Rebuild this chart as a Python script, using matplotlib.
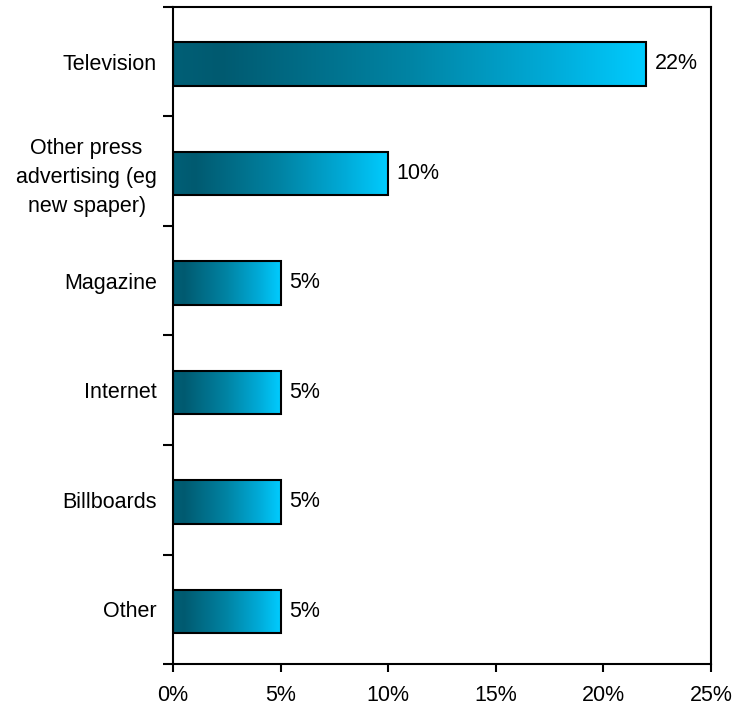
import numpy as np
import matplotlib
matplotlib.use("Agg")
import matplotlib.pyplot as plt
from matplotlib.colors import LinearSegmentedColormap
from matplotlib.ticker import FixedLocator, PercentFormatter

plt.rcParams['font.family'] = ['Liberation Sans', 'DejaVu Sans']

categories = ["Television", "Other press\nadvertising (eg\nnew spaper)", "Magazine",
              "Internet", "Billboards", "Other"]
values = [22, 10, 5, 5, 5, 5]
value_labels = ["22%", "10%", "5%", "5%", "5%", "5%"]
x_ticks = [0, 5, 10, 15, 20, 25]

grad = LinearSegmentedColormap.from_list(
    "teal", [(0.0, "#005f76"), (0.1, "#005a70"), (0.5, "#0084a4"),
             (0.8, "#00abd8"), (1.0, "#00ccff")])

FS = 15.5

fig = plt.figure(figsize=(7.35, 7.06), dpi=100)
ax = fig.add_axes([173 / 735, 1 - 664 / 706, (711 - 173) / 735, (664 - 7) / 706])

n = len(categories)
ypos = np.arange(n)
bar_h = 0.4
shift = 0.02
ramp = np.linspace(0, 1, 256).reshape(1, -1)

for y, v, lab in zip(ypos, values, value_labels):
    yc = y + shift
    y0, y1 = yc - bar_h / 2, yc + bar_h / 2
    ax.imshow(ramp, cmap=grad, aspect="auto", extent=[0, v, y1, y0],
              interpolation="bilinear", zorder=2)
    ax.add_patch(plt.Rectangle((0, y0), v, bar_h, fill=False,
                               edgecolor="black", linewidth=1.5, zorder=3))
    ax.text(v + 0.38, yc, lab, va="center", ha="left", fontsize=FS, color="black")

ax.set_xlim(0, 25)
ax.set_ylim(n - 0.5, -0.5)
ax.xaxis.set_major_locator(FixedLocator(x_ticks))
ax.xaxis.set_major_formatter(PercentFormatter(decimals=0))
ax.set_yticks(np.arange(n + 1) - 0.5)
ax.set_yticklabels([])
ax.set_yticks(ypos, minor=True)
ax.set_yticklabels(categories, minor=True, ha="right", multialignment="center",
                   linespacing=1.5)
ax.tick_params(axis="y", which="minor", length=0, pad=11.5, labelsize=FS)
ax.tick_params(axis="y", which="major", length=7, width=1.5, direction="out")
ax.tick_params(axis="x", which="major", length=6, width=1.5, direction="out",
               labelsize=FS, pad=9)

for s in ax.spines.values():
    s.set_linewidth(1.5)
    s.set_color("black")

fig.savefig("out.png", dpi=100)
